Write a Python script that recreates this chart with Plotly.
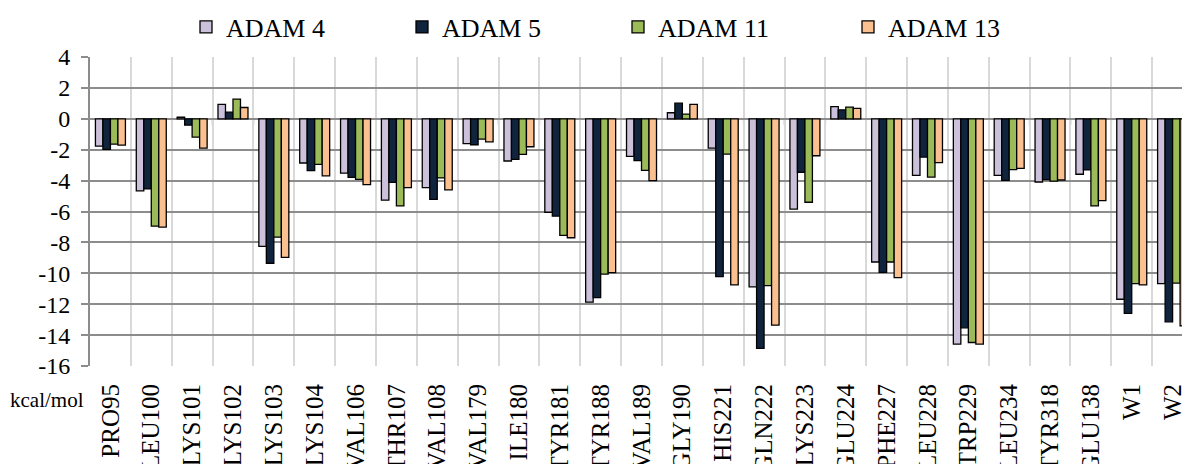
import plotly.graph_objects as go

residues = ["PRO95", "LEU100", "LYS101", "LYS102", "LYS103", "LYS104", "VAL106",
            "THR107", "VAL108", "VAL179", "ILE180", "TYR181", "TYR188", "VAL189",
            "GLY190", "HIS221", "GLN222", "LYS223", "GLU224", "PHE227", "LEU228",
            "TRP229", "LEU234", "TYR318", "GLU138", "W1", "W2"]

adam4 = [-1.77, -4.67, 0.10, 0.94, -8.26, -2.86, -3.51, -5.27, -4.45, -1.61, -2.73,
         -6.05, -11.87, -2.43, 0.39, -1.90, -10.88, -5.85, 0.79, -9.27, -3.66,
         -14.58, -3.66, -4.09, -3.59, -11.68, -10.67]
adam5 = [-1.98, -4.54, -0.41, 0.43, -9.35, -3.36, -3.79, -4.11, -5.21, -1.68, -2.63,
         -6.30, -11.57, -2.71, 1.01, -10.22, -14.86, -3.46, 0.58, -9.94, -2.48,
         -13.53, -3.98, -3.94, -3.31, -12.60, -13.14]
adam11 = [-1.64, -6.95, -1.19, 1.27, -7.66, -2.95, -3.92, -5.64, -3.83, -1.31, -2.30,
          -7.55, -10.05, -3.34, 0.30, -2.28, -10.80, -5.40, 0.75, -9.27, -3.77,
          -14.48, -3.29, -4.03, -5.64, -10.67, -10.63]
adam13 = [-1.70, -7.01, -1.90, 0.73, -8.97, -3.70, -4.26, -4.45, -4.60, -1.49, -1.81,
          -7.70, -9.96, -4.00, 0.94, -10.75, -13.36, -2.39, 0.68, -10.28, -2.84,
          -14.58, -3.21, -3.96, -5.29, -10.75, -13.40]

series = [
    ("ADAM 4", adam4, "#ccc1da"),
    ("ADAM 5", adam5, "#10243e"),
    ("ADAM 11", adam11, "#9bbb59"),
    ("ADAM 13", adam13, "#fac090"),
]

y_ticks = list(range(-16, 5, 2))

FONT = "'Liberation Serif', 'Times New Roman', Times, serif"
HGRID = "#8c8c8c"
VGRID = "#d9d9d9"

W, H = 1182, 464
ML, MT, MB = 90, 57, 98
PLOT_W = W - ML

# left edge (px) of each legend entry across the top of the chart
legend_left_px = [186, 402, 618, 848]

fig = go.Figure()
legend_layout = {}
for k, ((name, vals, color), lx) in enumerate(zip(series, legend_left_px)):
    lname = "legend" if k == 0 else f"legend{k + 1}"
    fig.add_trace(go.Bar(
        x=residues, y=vals, name=name, legend=lname,
        marker=dict(color=color, line=dict(color="#000000", width=1.3)),
    ))
    legend_layout[lname] = dict(
        orientation="h", xref="paper", yref="container",
        x=(lx - ML) / PLOT_W, xanchor="left",
        y=(H - 27) / H, yanchor="middle",
        font=dict(family=FONT, size=26),
        itemwidth=30, borderwidth=0, bgcolor="rgba(0,0,0,0)",
    )

# small tick marks hanging under the zero line at each category boundary
shapes = []
for i in range(len(residues)):
    shapes.append(dict(
        type="line", xref="x", yref="y", ysizemode="pixel", yanchor=0,
        x0=i + 0.5, x1=i + 0.5, y0=0, y1=-6,
        line=dict(color=HGRID, width=1.5), layer="below",
    ))

fig.update_layout(
    width=W, height=H,
    margin=dict(l=ML, r=0, t=MT, b=MB, autoexpand=False),
    paper_bgcolor="white", plot_bgcolor="white",
    font=dict(family=FONT, size=24, color="#000000"),
    barmode="group", bargap=0.266, bargroupgap=0,
    showlegend=True,
    xaxis=dict(
        type="category", range=[-0.5, 26.23], automargin=False,
        tickson="boundaries", showgrid=True, gridcolor=VGRID, gridwidth=1.5,
        ticks="", tickangle=-90, tickfont=dict(family=FONT, size=25),
        ticklabelstandoff=12, showline=False, zeroline=False,
    ),
    yaxis=dict(
        range=[-16, 4], tickvals=y_ticks, ticktext=[str(v) for v in y_ticks],
        automargin=False,
        showgrid=True, gridcolor=HGRID, gridwidth=1.5,
        zeroline=True, zerolinecolor=HGRID, zerolinewidth=2,
        showline=True, linecolor=HGRID, linewidth=2,
        ticks="outside", ticklen=7, tickcolor=HGRID, tickwidth=1.5,
        tickfont=dict(family=FONT, size=24), ticklabelstandoff=6,
    ),
    shapes=shapes,
    annotations=[dict(
        text="kcal/mol", xref="paper", yref="paper", x=-0.004, y=-0.109,
        xanchor="right", yanchor="middle", showarrow=False,
        font=dict(family=FONT, size=21),
    )],
    **legend_layout,
)

fig.write_html("out.html")
